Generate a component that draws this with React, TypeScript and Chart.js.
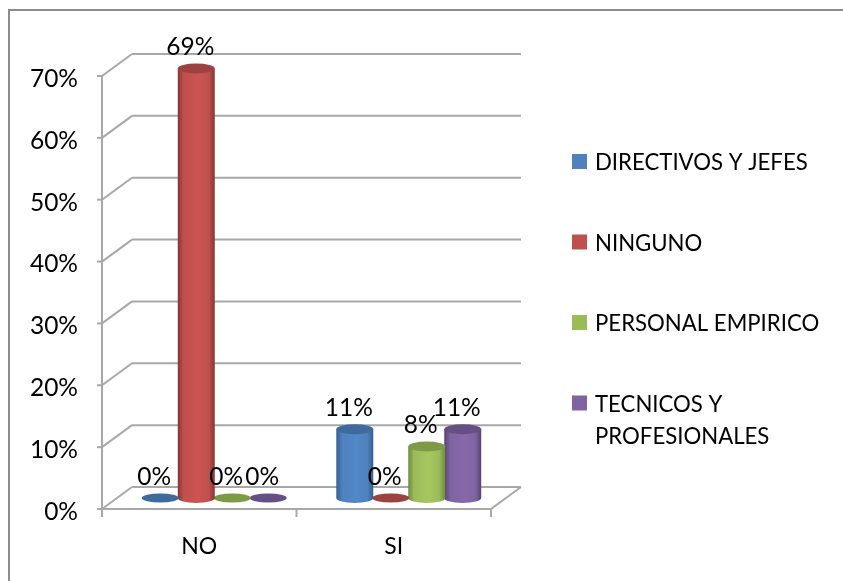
import React, { useEffect, useRef } from "react";
import { Chart, registerables } from "chart.js";

Chart.register(...registerables);

const categories = ["NO", "SI"];
const directivos = [0, 11.11];
const ninguno = [69.44, 0];
const empirico = [0, 8.33];
const tecnicos = [0, 11.11];
const seriesNames = ["DIRECTIVOS Y JEFES", "NINGUNO", "PERSONAL EMPIRICO", "TECNICOS Y PROFESIONALES"];
const seriesColors = ["#4f81bd", "#c0504d", "#9bbb59", "#8064a2"];
const seriesDark = ["#3e6a9c", "#9c4341", "#7d9a48", "#664f84"];
const seriesEdge = ["#36608f", "#863634", "#6d8a3e", "#574372"];
const seriesLight = ["#5188c8", "#cb5451", "#a5c75f", "#8768ac"];

const FONT = "Lato, Carlito, 'Open Sans', sans-serif";
const DX = 30;
const DY = -22;
const GRID = "#a8a8a8";

function line(ctx: CanvasRenderingContext2D, x1: number, y1: number, x2: number, y2: number) {
  ctx.beginPath();
  ctx.moveTo(x1, y1);
  ctx.lineTo(x2, y2);
  ctx.stroke();
}

const scene = {
  id: "scene",
  beforeDatasetsDraw(chart: any) {
    const { ctx, chartArea: a, scales } = chart;
    const y = scales.y;
    const x = scales.x;
    ctx.save();
    ctx.strokeStyle = GRID;
    ctx.lineWidth = 2;
    y.ticks.forEach((t: any) => {
      const p = y.getPixelForValue(t.value);
      line(ctx, a.left + DX, p + DY, a.right + DX, p + DY);
      line(ctx, a.left, p, a.left + DX, p + DY);
      line(ctx, a.left - 5, p, a.left, p);
    });
    line(ctx, a.left, a.top, a.left, a.bottom + 8);
    line(ctx, a.left, a.bottom, a.right, a.bottom);
    line(ctx, a.right, a.bottom, a.right + DX, a.bottom + DY);
    const step = (a.right - a.left) / categories.length;
    x.ticks.forEach((_: any, i: number) => {
      const p = x.getPixelForTick(i) + step / 2;
      line(ctx, p, a.bottom, p, a.bottom + 8);
    });
    ctx.restore();
  },
  beforeDatasetDraw(chart: any, args: any) {
    const { ctx } = chart;
    const i = args.index;
    const meta = chart.getDatasetMeta(i);
    const ry = 5;
    meta.data.forEach((bar: any) => {
      const p = bar.getProps(["x", "y", "base", "width"], true);
      const cx = p.x + DX / 2;
      const rx = p.width / 2 + 0.5;
      const top = p.y + DY / 2;
      const base = p.base + DY / 2;
      ctx.save();
      if (base - top > 0.5) {
        const g = ctx.createLinearGradient(cx - rx, 0, cx + rx, 0);
        g.addColorStop(0, seriesEdge[i]);
        g.addColorStop(0.16, seriesColors[i]);
        g.addColorStop(0.55, seriesLight[i]);
        g.addColorStop(0.84, seriesColors[i]);
        g.addColorStop(1, seriesEdge[i]);
        ctx.fillStyle = g;
        ctx.beginPath();
        ctx.moveTo(cx - rx, top);
        ctx.lineTo(cx - rx, base);
        ctx.ellipse(cx, base, rx, ry, 0, Math.PI, 0, true);
        ctx.lineTo(cx + rx, top);
        ctx.closePath();
        ctx.fill();
      }
      ctx.fillStyle = seriesDark[i];
      ctx.beginPath();
      ctx.ellipse(cx, top, rx, base - top > 0.5 ? ry : 4.5, 0, 0, Math.PI * 2);
      ctx.fill();
      ctx.restore();
    });
    return false;
  },
  afterDatasetsDraw(chart: any) {
    const { ctx } = chart;
    ctx.save();
    ctx.fillStyle = "#000";
    ctx.font = `24.5px ${FONT}`;
    ctx.textAlign = "center";
    ctx.textBaseline = "middle";
    chart.data.datasets.forEach((ds: any, i: number) => {
      chart.getDatasetMeta(i).data.forEach((bar: any, j: number) => {
        const p = bar.getProps(["x", "y"], true);
        ctx.fillText(`${Math.round(ds.data[j])}%`, p.x + DX / 2 - 6, p.y + DY / 2 - 21);
      });
    });
    ctx.restore();
  },
  afterDraw(chart: any) {
    const { ctx } = chart;
    ctx.save();
    ctx.strokeStyle = "#8c8c8c";
    ctx.lineWidth = 2;
    ctx.beginPath();
    ctx.moveTo(9, 581);
    ctx.lineTo(9, 10);
    ctx.lineTo(843, 10);
    ctx.stroke();
    ctx.font = `22.2px ${FONT}`;
    ctx.textBaseline = "middle";
    let row = 161.5;
    chart.data.datasets.forEach((ds: any, i: number) => {
      ctx.fillStyle = seriesColors[i];
      ctx.fillRect(572, row - 7.5, 15, 15);
      ctx.fillStyle = "#000";
      const words = String(ds.label).split(" ");
      const lines: string[] = [];
      let cur = "";
      words.forEach((w) => {
        const t = cur ? `${cur} ${w}` : w;
        if (ctx.measureText(t).width > 240 && cur) {
          lines.push(cur);
          cur = w;
        } else cur = t;
      });
      lines.push(cur);
      lines.forEach((l, k) => ctx.fillText(l, 595, row + 1.5 + k * 32));
      row += 80.5;
    });
    ctx.restore();
  },
};

export default function App() {
  const ref = useRef<HTMLCanvasElement>(null);
  useEffect(() => {
    document.body.style.margin = "0";
    const seriesValues = [directivos, ninguno, empirico, tecnicos];
    const chart = new Chart(ref.current!, {
      type: "bar",
      data: {
        labels: categories,
        datasets: seriesNames.map((label, i) => ({
          label,
          data: seriesValues[i],
          backgroundColor: seriesColors[i],
          barPercentage: 1,
          categoryPercentage: 0.74,
        })),
      },
      plugins: [scene],
      options: {
        animation: false,
        responsive: false,
        layout: { padding: { top: 76, right: 352, left: 0, bottom: 0 } },
        plugins: { legend: { display: false }, tooltip: { enabled: false } },
        scales: {
          x: {
            grid: { display: false },
            border: { display: false },
            ticks: { color: "#000", font: { family: FONT, size: 23 }, padding: 16, maxRotation: 0 },
            afterFit: (s: any) => { s.height = 72; },
          },
          y: {
            min: 0,
            max: 70,
            grid: { display: false },
            border: { display: false },
            ticks: {
              stepSize: 10,
              color: "#000",
              font: { family: FONT, size: 24.5 },
              padding: 16,
              labelOffset: 3,
              callback: (v: any) => `${v}%`,
            },
            afterFit: (s: any) => { s.width = 102; },
          },
        },
      } as any,
    });
    return () => chart.destroy();
  }, []);
  return <canvas ref={ref} width={843} height={581} style={{ display: "block", filter: "blur(0.5px)" }} />;
}
